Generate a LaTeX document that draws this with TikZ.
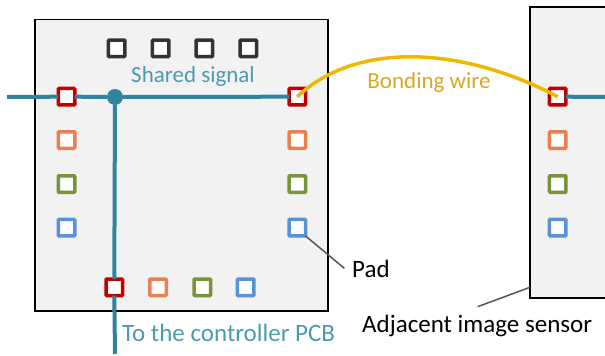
\documentclass[tikz,border=0pt]{standalone}
\usepackage{fontspec}
\setmainfont{Carlito}
\definecolor{chipfill}{HTML}{F2F2F2}
\definecolor{teal}{HTML}{31849B}
\definecolor{tealtext}{HTML}{4A9BB0}
\definecolor{padred}{HTML}{C00000}
\definecolor{padorange}{HTML}{E8804F}
\definecolor{padgreen}{HTML}{77933C}
\definecolor{padblue}{HTML}{5891D8}
\definecolor{padblack}{HTML}{333333}
\definecolor{gold}{HTML}{EEB800}
\definecolor{goldtext}{HTML}{D8A81E}
\definecolor{leader}{HTML}{555555}
\begin{document}
\begin{tikzpicture}[x=1pt,y=-1pt,
  chip/.style={draw=black,line width=1.6pt,fill=chipfill},
  pad/.style={draw=#1,line width=3.5pt,fill=white,minimum size=16.5pt,inner sep=0pt,outer sep=0pt,rectangle,rounded corners=0.8pt},
  sig/.style={draw=teal,line width=4pt},
  lbl/.style={font=\fontsize{25}{30}\selectfont,inner sep=0pt},
  slbl/.style={font=\fontsize{23}{28}\selectfont,inner sep=0pt},
  lead/.style={draw=leader,line width=1.5pt}]
\useasboundingbox (0,0) rectangle (605,356);
% chips
\path[chip] (35,19.5) rectangle (328,311);
\path[chip] (530,7) rectangle (615,298);
% signal lines
\coordinate (lin) at (7,97);
\coordinate (down) at (115,354);
\coordinate (rout) at (606,97);
\node[circle,fill=teal,minimum size=16pt,inner sep=0pt] (dot) at (115,97) {};
% pads main chip
\foreach \x [count=\i] in {116.7,160.7,204.3,248.3} \node[pad=padblack] (t\i) at (\x,48.3) {};
\node[pad=padred] (l1) at (66.5,96.7) {};
\node[pad=padorange] (l2) at (66.5,140) {};
\node[pad=padgreen] (l3) at (66.5,184) {};
\node[pad=padblue] (l4) at (66.5,227.7) {};
\node[pad=padred] (r1) at (297.3,96.7) {};
\node[pad=padorange] (r2) at (297.3,140) {};
\node[pad=padgreen] (r3) at (297.3,184) {};
\node[pad=padblue] (r4) at (297.3,227.7) {};
\node[pad=padred] (b1) at (114.3,287.3) {};
\node[pad=padorange] (b2) at (158,287.3) {};
\node[pad=padgreen] (b3) at (202.3,287.3) {};
\node[pad=padblue] (b4) at (245.7,287.3) {};
% pads adjacent chip
\node[pad=padred] (a1) at (557.7,96.7) {};
\node[pad=padorange] (a2) at (557.7,140) {};
\node[pad=padgreen] (a3) at (557.7,184) {};
\node[pad=padblue] (a4) at (557.7,227.7) {};
% signal wires
\path[sig] (lin) -- (l1.west);
\path[sig] (l1.east) -- (dot) -- (r1.west);
\path[sig] (dot) -- (b1.north);
\path[sig] (b1.south) -- (down);
\path[sig] (a1.east) -- (rout);
% bonding wire
\draw[gold,line width=3.5pt] (r1.center) .. controls (355,42) and (460,45) .. (a1.center);
% labels
\node[slbl,text=tealtext] (shared) at (193,76) {Shared signal};
\node[slbl,text=goldtext] (bond) at (429,82) {Bonding wire};
\node[lbl,text=black,anchor=west] (padlbl) at (352,269) {Pad};
\node[lbl,text=black,anchor=west] (adj) at (362,326) {Adjacent image sensor};
\node[lbl,text=tealtext,anchor=west] (pcb) at (122,333) {To the controller PCB};
% leaders
\coordinate (padtip) at (344.3,268.3);
\coordinate (adjtip) at (477.7,306.7);
\path[lead] (r4.south east) -- (padtip);
\path[lead] (adjtip) -- (530,287.3);
\end{tikzpicture}
\end{document}
